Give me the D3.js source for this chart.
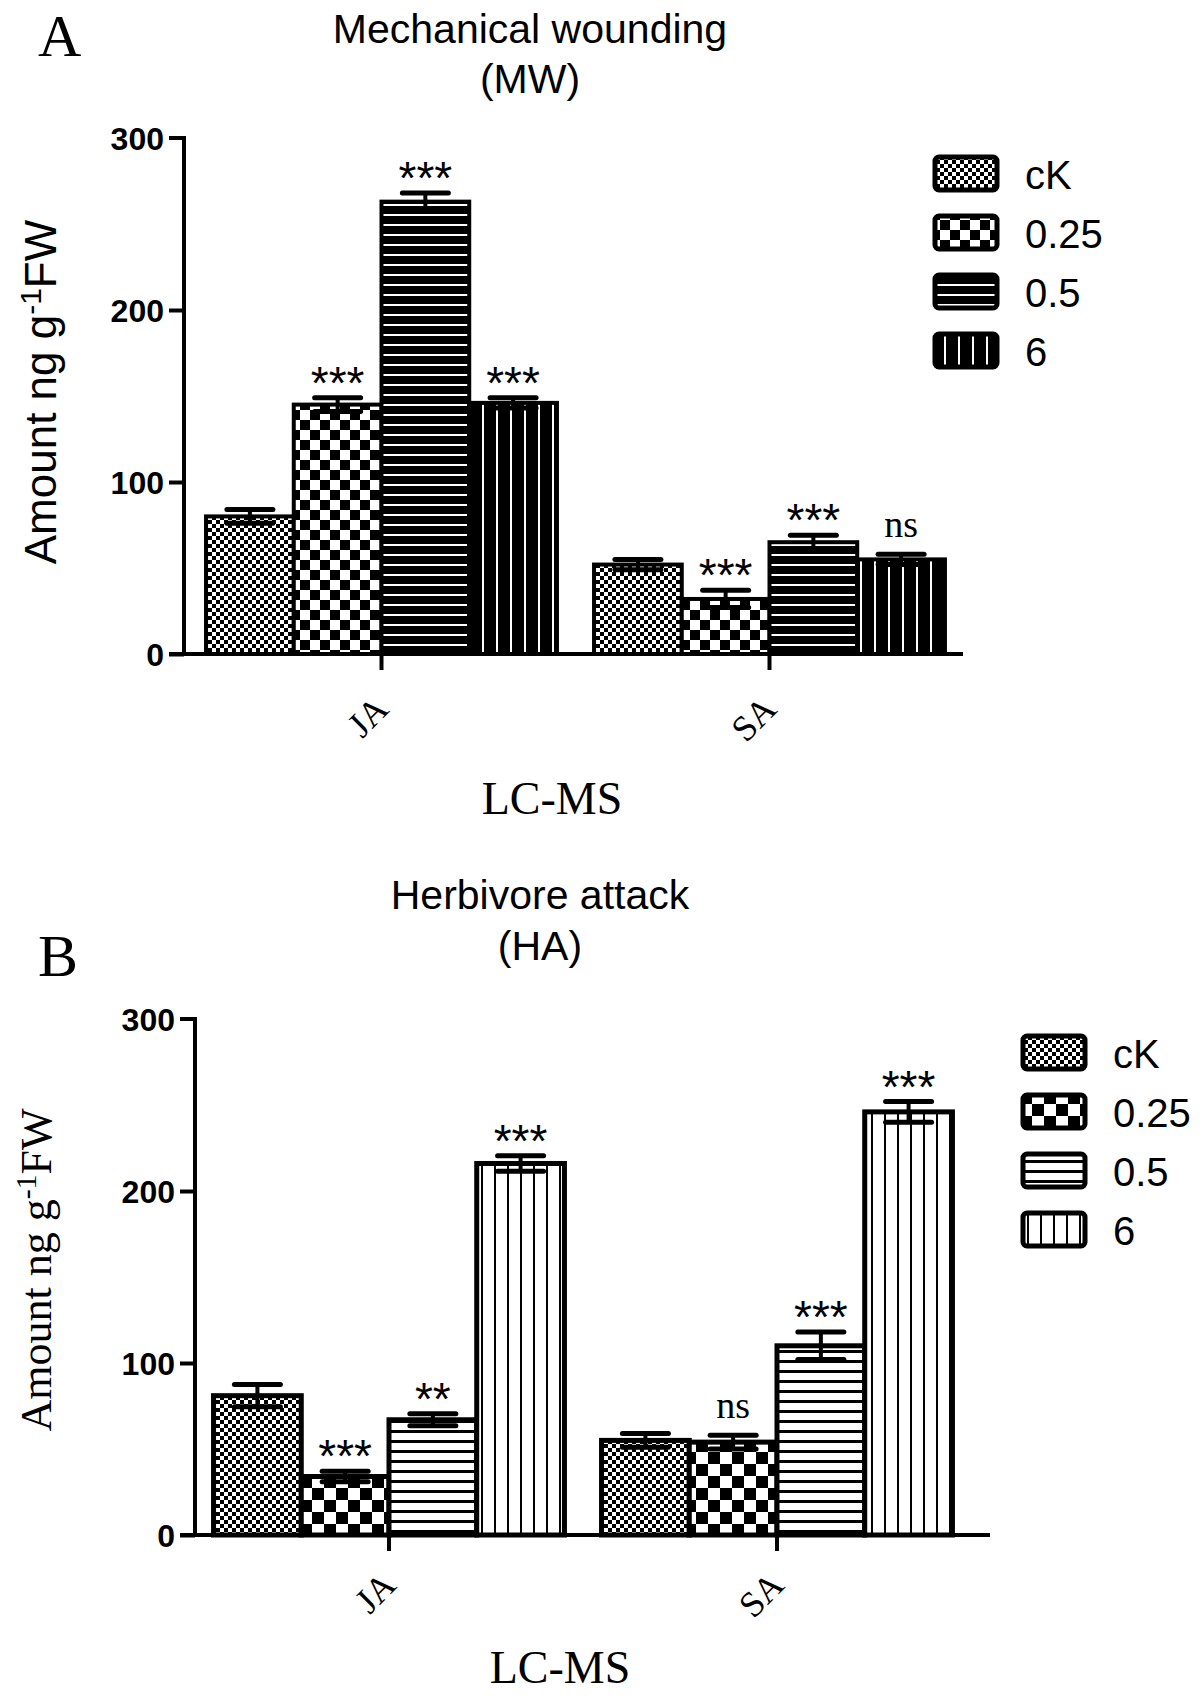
<!DOCTYPE html>
<html><head><meta charset="utf-8">
<script src="https://cdn.jsdelivr.net/npm/d3@7"></script>
<style>body{margin:0;background:#fff}svg{display:block}</style>
</head><body>
<svg id="c" width="1200" height="1697"></svg>
<script>
// ---- data ----
const groups = ["JA", "SA"];
const treatments = ["cK", "0.25", "0.5", "6"];
const yTicks = [0, 100, 200, 300];

const mwJA = [80, 145, 263, 146];
const mwSA = [52, 32, 65, 55];
const mwErrJA = [4, 4, 5, 3];
const mwErrSA = [3, 5, 4, 3];
const mwSigJA = ["", "***", "***", "***"];
const mwSigSA = ["", "***", "***", "ns"];

const haJA = [81, 34, 67, 216];
const haSA = [55, 54, 110, 246];
const haErrJA = [6.5, 3, 3.5, 4.5];
const haErrSA = [4, 4, 8, 6];
const haSigJA = ["", "***", "**", "***"];
const haSigSA = ["", "ns", "***", "***"];

const xTitle = "LC-MS";

// ---- drawing ----
const SANS = "'Liberation Sans', Arial, sans-serif";
const SERIF = "'Liberation Serif', 'Times New Roman', serif";
const svg = d3.select("#c");
const defs = svg.append("defs");

function pat(id, w, h, bg, rects) {
  const p = defs.append("pattern").attr("id", id).attr("patternUnits", "userSpaceOnUse")
    .attr("width", w).attr("height", h);
  p.append("rect").attr("width", w).attr("height", h).attr("fill", bg);
  rects.forEach(r => p.append("rect").attr("x", r[0]).attr("y", r[1]).attr("width", r[2]).attr("height", r[3]).attr("fill", r[4]));
}
// panel A patterns
pat("a0", 8, 8, "#fff", [[0,0,4,4,"#000"],[4,4,4,4,"#000"]]);
pat("a1", 20, 20, "#fff", [[0,0,10,10,"#000"],[10,10,10,10,"#000"]]);
pat("a2", 10, 10, "#000", [[0,4,10,2,"#fff"]]);
pat("a3", 14, 14, "#000", [[6,0,2,14,"#fff"]]);
// panel B patterns
pat("b0", 8, 8, "#fff", [[0,0,4,4,"#000"],[4,4,4,4,"#000"]]);
pat("b1", 24, 24, "#fff", [[0,0,12,12,"#000"],[12,12,12,12,"#000"]]);
pat("b2", 10, 10, "#fff", [[0,0,10,3,"#000"]]);
pat("b3", 13, 13, "#fff", [[0,0,2,13,"#000"]]);

function panel(cfg) {
  const g = svg.append("g");
  const y = d3.scaleLinear().domain([0, 300]).range([cfg.y0, cfg.y300]);
  const x0 = d3.scaleBand().domain(groups).range(cfg.xr).paddingInner(0.0956).paddingOuter(0.0478);
  const x1 = d3.scaleBand().domain(treatments).range([0, x0.bandwidth()]);

  // panel letter
  g.append("text").attr("x", 38).attr("y", cfg.letterY).attr("font-family", SERIF)
    .attr("font-size", 60).text(cfg.letter);
  // title
  cfg.title.forEach((t, i) => g.append("text").attr("x", cfg.titleX).attr("y", cfg.titleY[i])
    .attr("text-anchor", "middle").attr("font-family", SANS).attr("font-size", 41).text(t));

  // bars
  groups.forEach((grp, gi) => {
    const vals = cfg.vals[gi], errs = cfg.errs[gi], sigs = cfg.sigs[gi];
    treatments.forEach((tr, ti) => {
      const bx = x0(grp) + x1(tr), bw = x1.bandwidth();
      g.append("rect").attr("x", bx).attr("y", y(vals[ti])).attr("width", bw)
        .attr("height", y(0) - y(vals[ti])).attr("fill", `url(#${cfg.pid}${ti})`)
        .attr("stroke", "#000").attr("stroke-width", cfg.sw);
    });
    treatments.forEach((tr, ti) => {
      const cx = x0(grp) + x1(tr) + x1.bandwidth() / 2;
      const hi = y(vals[ti] + errs[ti]), lo = y(vals[ti] - errs[ti]);
      g.append("line").attr("x1", cx).attr("x2", cx).attr("y1", hi).attr("y2", lo)
        .attr("stroke", "#000").attr("stroke-width", 4);
      [hi, lo].forEach(yy => g.append("line").attr("x1", cx - 23).attr("x2", cx + 23)
        .attr("y1", yy).attr("y2", yy).attr("stroke", "#000").attr("stroke-width", 5)
        .attr("stroke-linecap", "round"));
      const s = sigs[ti];
      if (s) {
        const isNs = s === "ns";
        g.append("text").attr("x", cx).attr("y", isNs ? hi - 17 : hi + 1)
          .attr("text-anchor", "middle").attr("font-family", isNs ? SERIF : SANS)
          .attr("font-size", isNs ? 38 : 46).text(s);
      }
    });
  });

  // y axis
  const ya = d3.axisLeft(y).tickValues(yTicks).tickSize(15).tickPadding(5).tickFormat(d3.format("d"));
  const yg = g.append("g").attr("transform", `translate(${cfg.axisX},0)`).call(ya);
  yg.select(".domain").attr("d", `M-15,${y(300)}H0V${y(0)}`).attr("stroke-width", 4);
  yg.selectAll(".tick line").attr("stroke-width", 4);
  yg.selectAll(".tick text").attr("font-family", SANS).attr("font-weight", "bold")
    .attr("font-size", 32).attr("dy", "0.35em");
  yg.selectAll(".tick").filter(d => d === 300).select("line").remove();

  // x axis
  g.append("line").attr("x1", cfg.axisX - 15).attr("x2", cfg.axisEnd).attr("y1", y(0)).attr("y2", y(0))
    .attr("stroke", "#000").attr("stroke-width", 4);
  groups.forEach(grp => {
    const cx = x0(grp) + x0.bandwidth() / 2;
    g.append("line").attr("x1", cx).attr("x2", cx).attr("y1", y(0)).attr("y2", y(0) + 16)
      .attr("stroke", "#000").attr("stroke-width", 4);
    g.append("text").attr("transform", `translate(${cx + 9},${y(0) + cfg.labDy}) rotate(-45)`)
      .attr("text-anchor", "end").attr("font-family", SERIF).attr("font-size", 36).text(grp);
  });
  g.append("text").attr("x", cfg.lcX).attr("y", cfg.lcY).attr("text-anchor", "middle")
    .attr("font-family", SERIF).attr("font-size", 46).text(xTitle);

  // y label
  const yl = g.append("text").attr("transform", `translate(${cfg.ylab[0]},${cfg.ylab[1]}) rotate(-90)`)
    .attr("text-anchor", "middle").attr("font-family", cfg.ylabFont).attr("font-size", cfg.ylabSize);
  yl.append("tspan").text("Amount ng g");
  yl.append("tspan").attr("dy", -15).attr("font-size", cfg.ylabSize * 0.68).text("-1");
  yl.append("tspan").attr("dy", 15).text("FW");

  // legend
  treatments.forEach((tr, ti) => {
    const ly = cfg.legend[1] + ti * 59;
    g.append("rect").attr("x", cfg.legend[0]).attr("y", ly).attr("width", 62).attr("height", 33)
      .attr("rx", 4).attr("fill", `url(#${cfg.pid}${ti})`).attr("stroke", "#000").attr("stroke-width", 5);
    g.append("text").attr("x", cfg.legend[0] + 90).attr("y", ly + 32).attr("font-family", SANS)
      .attr("font-size", 40).text(tr);
  });
}

panel({
  letter: "A", letterY: 56, title: ["Mechanical wounding", "(MW)"], titleX: 530, titleY: [43, 93],
  y0: 654, y300: 138, xr: [187.5, 963.5], axisX: 184, axisEnd: 963, pid: "a", sw: 4,
  vals: [mwJA, mwSA], errs: [mwErrJA, mwErrSA], sigs: [mwSigJA, mwSigSA],
  labDy: 57, lcX: 552, lcY: 814, ylab: [56, 392], ylabFont: SANS, ylabSize: 44, legend: [935, 157]
});
panel({
  letter: "B", letterY: 976, title: ["Herbivore attack", "(HA)"], titleX: 540, titleY: [909, 960],
  y0: 1535, y300: 1019, xr: [195, 971], axisX: 195, axisEnd: 990, pid: "b", sw: 5,
  vals: [haJA, haSA], errs: [haErrJA, haErrSA], sigs: [haSigJA, haSigSA],
  labDy: 52, lcX: 560, lcY: 1683, ylab: [51, 1270], ylabFont: SERIF, ylabSize: 44, legend: [1023, 1036]
});
</script>
</body></html>
